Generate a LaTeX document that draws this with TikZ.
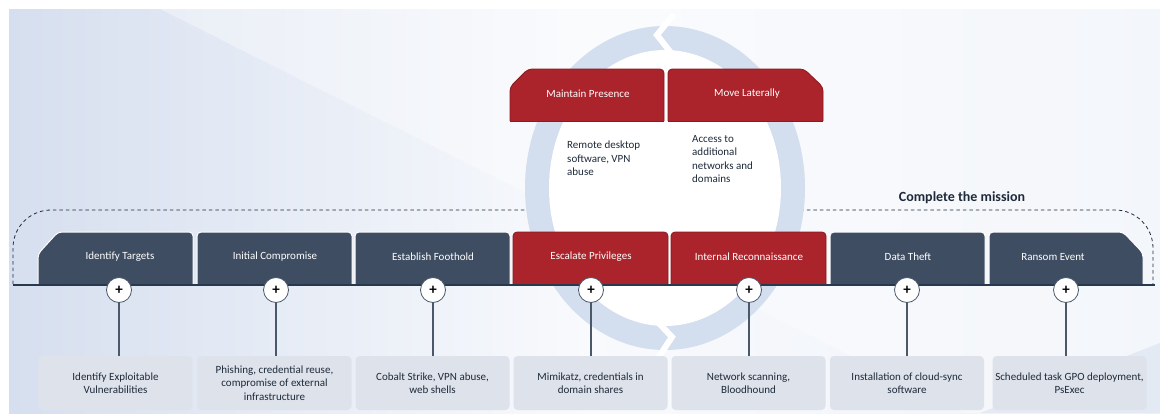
\documentclass[tikz,border=0pt]{standalone}
\usepackage{fontspec}
\setmainfont{Carlito}
\definecolor{slate}{HTML}{3E4D61}
\definecolor{crimson}{HTML}{AB232B}
\definecolor{crimsonD}{HTML}{8A1A20}
\definecolor{ink}{HTML}{1E2A3A}
\definecolor{ringc}{HTML}{D3DEEF}
\definecolor{bgL}{HTML}{D6DFEF}
\definecolor{bgR}{HTML}{EEF2F9}
\definecolor{boxc}{HTML}{DEE2EA}
\definecolor{linec}{HTML}{4A5869}
\definecolor{basec}{HTML}{26394E}
\tikzset{
  tabdark/.style={fill=slate, draw=white, line width=1pt, rounded corners=4pt},
  tabred/.style={fill=crimson, draw=crimsonD, line width=0.8pt, rounded corners=4pt},
  tablabel/.style={text=white, font=\fontsize{11}{13}\selectfont, inner sep=0pt},
  desc/.style={text=ink, font=\fontsize{11}{13.5}\selectfont, align=left, inner sep=0pt},
  detail/.style={fill=boxc, rounded corners=4pt, minimum width=154pt, minimum height=54pt,
    align=center, text=ink, font=\fontsize{11}{13.4}\selectfont, inner sep=2pt},
  plus/.style={circle, draw=linec, line width=0.8pt, fill=white, minimum size=25pt, inner sep=0pt,
    font=\bfseries\fontsize{15}{15}\selectfont},
  conn/.style={draw=linec, line width=1.3pt},
  dashline/.style={draw=ink, line width=0.8pt, dash pattern=on 3.5pt off 3pt},
}
\begin{document}
\begin{tikzpicture}[x=1pt,y=-1pt]
\useasboundingbox (0,0) rectangle (1160,415);
% background
\fill[white] (0,0) rectangle (1160,415);
\shade[left color=bgL, right color=bgR, middle color=white!60!bgR] (9,9) rectangle (1160,413);
\fill[white, opacity=0.35] (160,9) -- (1160,9) -- (1160,413) -- (965,413) -- cycle;
\fill[bgL, opacity=0.5] (980,413) -- (1160,343) -- (1160,413) -- cycle;
% dashed frame
\draw[dashline, rounded corners=38pt] (13,284) -- (13,210) -- (1153,210) -- (1153,284);
\node[text=ink, font=\bfseries\fontsize{14}{14}\selectfont, inner sep=0pt] (mission) at (962,198) {Complete the mission};
% ring
\fill[ringc] (665,188) ellipse [x radius=140, y radius=162];
\fill[white] (665,188) ellipse [x radius=116, y radius=138];
\draw[white, line width=6pt, line join=miter] (674,14) -- (657,35) -- (672,54);
\draw[white, line width=6pt, line join=miter] (654,318) -- (672,337) -- (658,358);
% top red boxes
\filldraw[tabred] (510,121) -- (510,87) -- (528,69) -- (664,69) -- (664,121);
\filldraw[tabred] (668,121) -- (668,69) -- (804,69) -- (823,87) -- (823,121);
\draw[crimsonD, line width=0.8pt] (510,121) -- (664,121) (668,121) -- (823,121);
\node[tablabel] (mp) at (588,94) {Maintain Presence};
\node[tablabel] (ml) at (747,94) {Move Laterally};
\node[desc, anchor=north west] (mpd) at (567,141) {Remote desktop\\software, VPN\\abuse};
\node[desc, anchor=north west] (mld) at (692,135) {Access to\\additional\\networks and\\domains};
% tabs
\filldraw[tabdark] (38,284) -- (38,254) -- (58,232) -- (193,232) -- (193,284);
\filldraw[tabdark] (197,284) -- (197,232) -- (352,232) -- (352,284);
\filldraw[tabdark] (355,284) -- (355,232) -- (510,232) -- (510,284);
\filldraw[tabred]  (513,284) -- (513,232) -- (668,232) -- (668,284);
\filldraw[tabred]  (671,284) -- (671,232) -- (826,232) -- (826,284);
\filldraw[tabdark] (830,284) -- (830,232) -- (985,232) -- (985,284);
\filldraw[tabdark] (989,284) -- (989,232) -- (1123,232) -- (1143,253) -- (1143,284);
\node[tablabel] (t1) at (120,257) {Identify Targets};
\node[tablabel] (t2) at (275,257) {Initial Compromise};
\node[tablabel] (t3) at (433,257) {Establish Foothold};
\node[tablabel] (t4) at (591,257) {Escalate Privileges};
\node[tablabel] (t5) at (749,257) {Internal Reconnaissance};
\node[tablabel] (t6) at (908,257) {Data Theft};
\node[tablabel] (t7) at (1053,257) {Ransom Event};
\draw[basec, line width=2pt] (13,285) -- (1155,285);
% detail boxes
\node[detail] (d1) at (115.5,383) {Identify Exploitable\\Vulnerabilities};
\node[detail] (d2) at (274.5,383) {Phishing, credential reuse,\\compromise of external\\infrastructure};
\node[detail] (d3) at (432.5,383) {Cobalt Strike, VPN abuse,\\web shells};
\node[detail] (d4) at (590.5,383) {Mimikatz, credentials in\\domain shares};
\node[detail] (d5) at (748.5,383) {Network scanning,\\Bloodhound};
\node[detail] (d6) at (907,383) {Installation of cloud-sync\\software};
\node[detail] (d7) at (1069.5,383) {Scheduled task GPO deployment,\\PsExec};
% plus circles and connectors
\foreach \i/\x in {1/119,2/276,3/433,4/591,5/749,6/907,7/1066}{
  \node[plus] (c\i) at (\x,290) {+};
  \draw[conn] (c\i.south) -- (c\i.south |- d\i.north);
}
\end{tikzpicture}
\end{document}
